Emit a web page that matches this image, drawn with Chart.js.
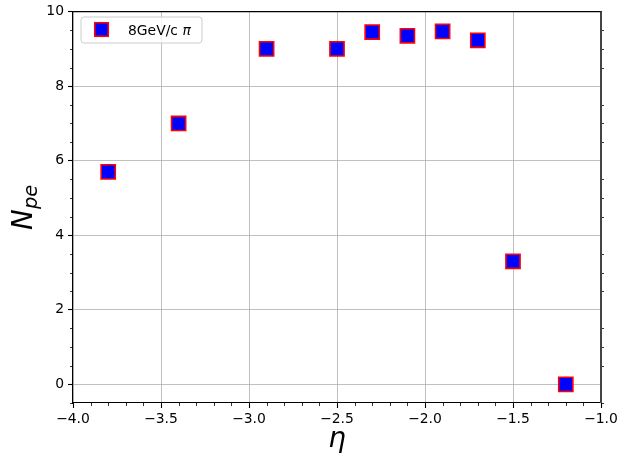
<!DOCTYPE html>
<html><head><meta charset="utf-8">
<script src="https://cdn.jsdelivr.net/npm/chart.js@4"></script>
<style>html,body{margin:0;padding:0;background:#fff}#c{display:block}</style>
</head>
<body>
<canvas id="c" width="619" height="461"></canvas>
<script>
const etaValues = [-3.8, -3.4, -2.9, -2.5, -2.3, -2.1, -1.9, -1.7, -1.5, -1.2];
const npeValues = [5.7, 7.0, 9.0, 9.0, 9.45, 9.35, 9.47, 9.23, 3.3, 0.0];
const seriesLabel = '8GeV/c ';
const seriesLabelMath = 'π';
const xTicks = [-4, -3.5, -3, -2.5, -2, -1.5, -1];
const yTicks = [0, 2, 4, 6, 8, 10];
const xTitle = 'η';
const yTitleMain = 'N';
const yTitleSub = 'pe';

const FONT = 'DejaVu Sans';
const fmtX = v => (v < 0 ? '\u2212' : '') + Math.abs(v).toFixed(1);

const decor = {
  id: 'decor',
  afterDraw(chart) {
    const { ctx, chartArea: a, scales: { x, y } } = chart;
    ctx.save();
    ctx.strokeStyle = '#000';
    ctx.lineWidth = 0.8;
    ctx.beginPath();
    for (let i = 0; i <= 30; i++) {
      if (i % 5 === 0) continue;
      const px = Math.round(x.getPixelForValue(-4 + i * 0.1)) + 0.5;
      ctx.moveTo(px, a.bottom); ctx.lineTo(px, a.bottom + 3);
    }
    for (let i = -1; i <= 20; i++) {
      if (i % 4 === 0) continue;
      const py = Math.round(y.getPixelForValue(i * 0.5)) + 0.5;
      ctx.moveTo(a.left, py); ctx.lineTo(a.left - 3, py);
      ctx.moveTo(a.right, py); ctx.lineTo(a.right + 3, py);
    }
    ctx.stroke();
    ctx.lineWidth = 1.1;
    ctx.beginPath();
    ctx.moveTo(a.left, a.top); ctx.lineTo(a.right + 1, a.top);
    ctx.stroke();
    ctx.strokeStyle = '#444';
    ctx.lineWidth = 2;
    ctx.beginPath();
    ctx.moveTo(a.right, a.top); ctx.lineTo(a.right, a.bottom);
    ctx.stroke();

    // legend
    const lx = 81, ly = 17, lw = 121, lh = 26, r = 3;
    ctx.beginPath();
    ctx.moveTo(lx + r, ly);
    ctx.arcTo(lx + lw, ly, lx + lw, ly + lh, r);
    ctx.arcTo(lx + lw, ly + lh, lx, ly + lh, r);
    ctx.arcTo(lx, ly + lh, lx, ly, r);
    ctx.arcTo(lx, ly, lx + lw, ly, r);
    ctx.closePath();
    ctx.fillStyle = 'rgba(255,255,255,0.8)';
    ctx.fill();
    ctx.strokeStyle = '#cccccc';
    ctx.lineWidth = 1;
    ctx.stroke();
    const mx = 101.5, my = 29.5, ms = 13.5;
    ctx.fillStyle = '#0000ff';
    ctx.fillRect(mx - ms / 2, my - ms / 2, ms, ms);
    ctx.strokeStyle = '#ff0000';
    ctx.lineWidth = 1.6;
    ctx.strokeRect(mx - ms / 2, my - ms / 2, ms, ms);
    ctx.fillStyle = '#000';
    ctx.textBaseline = 'alphabetic';
    ctx.textAlign = 'left';
    ctx.font = '13.9px "' + FONT + '"';
    ctx.fillText(seriesLabel, 128, 35);
    const w1 = ctx.measureText(seriesLabel).width;
    ctx.font = 'italic 13.9px "' + FONT + '"';
    ctx.fillText(seriesLabelMath, 128 + w1, 35);

    // x title
    ctx.font = 'italic 27.8px "' + FONT + '"';
    ctx.textAlign = 'center';
    ctx.fillText(xTitle, (a.left + a.right) / 2, 447);

    // y title
    ctx.translate(32, (a.top + a.bottom) / 2);
    ctx.rotate(-Math.PI / 2);
    ctx.font = 'italic 27.8px "' + FONT + '"';
    const wN = ctx.measureText(yTitleMain).width;
    ctx.font = 'italic 19.5px "' + FONT + '"';
    const wS = ctx.measureText(yTitleSub).width;
    const start = -(wN + wS) / 2;
    ctx.textAlign = 'left';
    ctx.font = 'italic 27.8px "' + FONT + '"';
    ctx.fillText(yTitleMain, start, 0);
    ctx.font = 'italic 19.5px "' + FONT + '"';
    ctx.fillText(yTitleSub, start + wN, 5);
    ctx.restore();
  }
};

new Chart(document.getElementById('c'), {
  type: 'scatter',
  data: {
    datasets: [{
      label: seriesLabel + seriesLabelMath,
      data: etaValues.map((v, i) => ({ x: v, y: npeValues[i] })),
      pointStyle: 'rect',
      pointRadius: 10,
      pointHoverRadius: 10,
      backgroundColor: '#0000ff',
      borderColor: '#ff0000',
      borderWidth: 1.6
    }]
  },
  options: {
    responsive: false,
    devicePixelRatio: 1,
    animation: false,
    events: [],
    layout: { padding: { top: 9, right: 18, left: 0, bottom: 0 } },
    plugins: { legend: { display: false }, tooltip: { enabled: false } },
    scales: {
      x: {
        type: 'linear', min: -4, max: -1,
        afterBuildTicks: s => { s.ticks = xTicks.map(v => ({ value: v })); },
        afterFit: s => { s.height = 58; s.paddingLeft = 0; s.paddingRight = 0; },
        ticks: { callback: v => fmtX(v), color: '#000', font: { family: FONT, size: 13.9 }, padding: 3, maxRotation: 0, autoSkip: false },
        grid: { color: '#b0b0b0', lineWidth: 0.8, tickColor: '#000', tickLength: 5, tickWidth: 1.1 },
        border: { color: '#000', width: 1.1 }
      },
      y: {
        type: 'linear', min: -0.5, max: 10,
        afterBuildTicks: s => { s.ticks = yTicks.map(v => ({ value: v })); },
        afterFit: s => { s.width = 73; s.paddingTop = 0; s.paddingBottom = 0; },
        ticks: { callback: v => String(v), color: '#000', font: { family: FONT, size: 13.9 }, padding: 4, autoSkip: false },
        grid: { color: '#b0b0b0', lineWidth: 0.8, tickColor: '#000', tickLength: 5, tickWidth: 1.1 },
        border: { color: '#000', width: 1.1 }
      }
    }
  },
  plugins: [decor]
});
</script>
</body></html>
